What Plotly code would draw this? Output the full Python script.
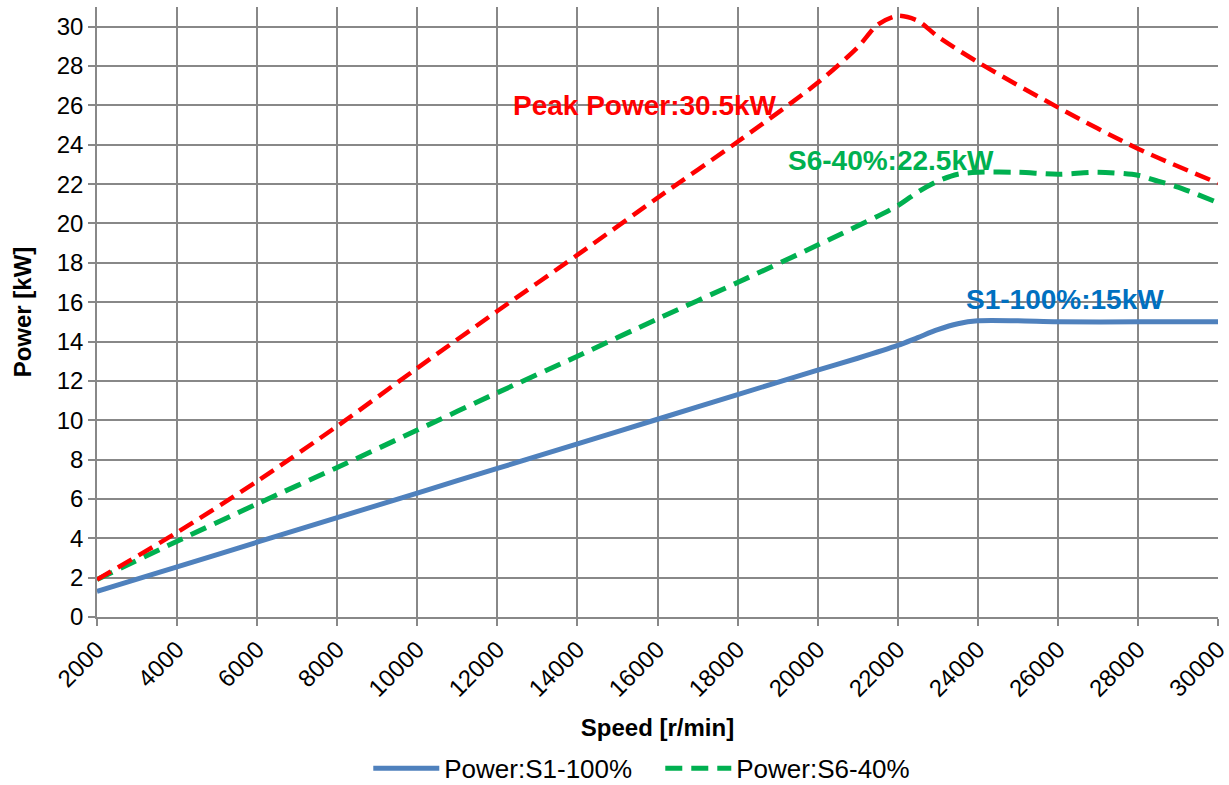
import plotly.graph_objects as go

# Data
speed_s1 = [2000, 4000, 6000, 8000, 10000, 12000, 14000, 16000, 18000, 20000, 21000, 22000, 22500, 23000, 23500, 24000, 25000, 26000, 28000, 30000]
power_s1 = [1.3, 2.55, 3.8, 5.05, 6.3, 7.55, 8.8, 10.05, 11.3, 12.55, 13.15, 13.8, 14.2, 14.6, 14.9, 15.05, 15.05, 15.0, 15.0, 15.0]

speed_s6 = [2000, 4000, 6000, 8000, 10000, 12000, 14000, 16000, 18000, 20000, 22000, 22500, 23000, 23500, 24000, 25000, 26000, 27000, 28000, 28500, 29000, 30000]
power_s6 = [1.9, 3.85, 5.75, 7.6, 9.5, 11.4, 13.25, 15.15, 17.0, 18.9, 20.9, 21.6, 22.15, 22.5, 22.6, 22.6, 22.5, 22.6, 22.45, 22.15, 21.85, 21.05]

speed_peak = [2000, 4000, 6000, 8000, 10000, 12000, 14000, 16000, 18000, 20000, 21000, 21500, 22000, 22500, 23000, 24000, 26000, 28000, 30000]
power_peak = [1.9, 4.3, 6.9, 9.7, 12.65, 15.55, 18.4, 21.3, 24.15, 27.15, 28.95, 30.1, 30.55, 30.3, 29.5, 28.2, 25.9, 23.8, 22.05]

x_ticks = list(range(2000, 30001, 2000))
y_ticks = list(range(0, 31, 2))

FONT = "Arial, 'Liberation Sans', sans-serif"

fig = go.Figure()
fig.add_trace(go.Scatter(x=speed_s1, y=power_s1, mode="lines", name="Power:S1-100%",
                         line=dict(color="#4F81BD", width=5, shape="spline", smoothing=0.8)))
fig.add_trace(go.Scatter(x=speed_s6, y=power_s6, mode="lines", name="Power:S6-40%",
                         line=dict(color="#00B050", width=5, dash="17px,9px", shape="spline", smoothing=0.8)))
fig.add_trace(go.Scatter(x=speed_peak, y=power_peak, mode="lines", name="Power:Peak", showlegend=False,
                         line=dict(color="#FF0000", width=4.5, dash="16px,8px", shape="spline", smoothing=0.8)))

fig.add_annotation(x=15686, y=26.0, text="<b>Peak Power:30.5kW</b>", showarrow=False,
                   font=dict(family=FONT, size=28, color="#FF0000"), xanchor="center", yanchor="middle")
fig.add_annotation(x=21830, y=23.2, text="<b>S6-40%:22.5kW</b>", showarrow=False,
                   font=dict(family=FONT, size=28, color="#00B050"), xanchor="center", yanchor="middle")
fig.add_annotation(x=26176, y=16.15, text="<b>S1-100%:15kW</b>", showarrow=False,
                   font=dict(family=FONT, size=28, color="#0070C0"), xanchor="center", yanchor="middle")

fig.update_layout(
    width=1229, height=785,
    margin=dict(l=97, r=11, t=7, b=168, autoexpand=False),
    paper_bgcolor="white", plot_bgcolor="white",
    font=dict(family=FONT, size=24, color="black"),
    showlegend=True,
    legend=dict(orientation="h", x=0.242, xanchor="left", y=-0.248, yanchor="middle",
                font=dict(family=FONT, size=26, color="black"), itemwidth=66,
                entrywidth=211, entrywidthmode="pixels", bgcolor="rgba(0,0,0,0)"),
    xaxis=dict(range=[2000, 30000], tickvals=x_ticks, ticktext=[str(v) for v in x_ticks],
               tickangle=-45, showgrid=True, gridcolor="#888888", gridwidth=1.5,
               showline=True, linecolor="#888888", linewidth=1.5,
               ticks="outside", ticklen=7, tickcolor="#888888", tickwidth=1.5,
               zeroline=False, tickfont=dict(size=24), automargin=False, ticklabeloverflow="allow",
               title=dict(text="<b>Speed [r/min]</b>", font=dict(size=24), standoff=18)),
    yaxis=dict(range=[0, 31], tickvals=y_ticks, showgrid=True, gridcolor="#888888", gridwidth=1.5,
               showline=True, linecolor="#888888", linewidth=1.5,
               ticks="outside", ticklen=7, tickcolor="#888888", tickwidth=1.5,
               zeroline=False, tickfont=dict(size=24), automargin=False,
               title=dict(text="<b>Power [kW]</b>", font=dict(size=24), standoff=18)),
)

fig.write_html("out.html", config={"displayModeBar": False},
               post_script="document.body.style.margin='0';document.body.style.overflow='hidden';")
